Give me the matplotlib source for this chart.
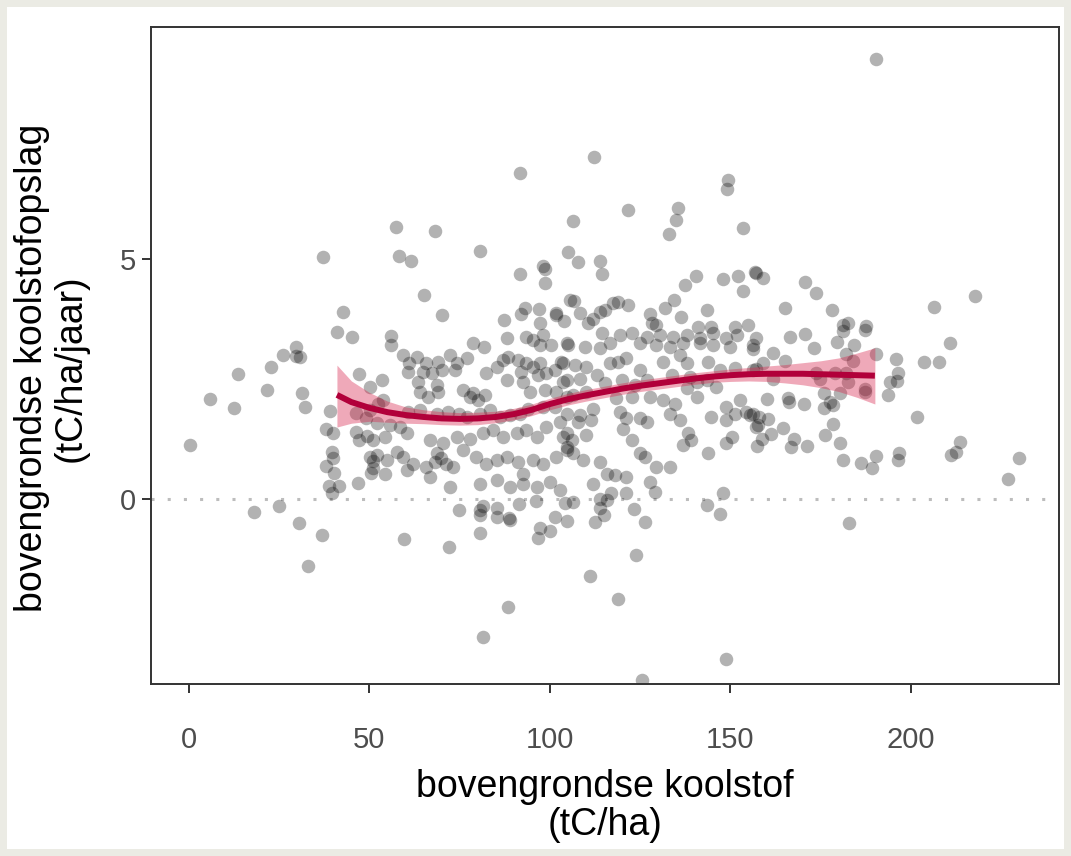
import numpy as np
import matplotlib.pyplot as plt
from matplotlib.patches import Rectangle

# ---------- dati ----------
# punti: (koolstof tC/ha, opslag tC/ha/jaar), raggruppati per zona del grafico
pts_left = [
    (0.3, 1.13), (5.8, 2.08), (12.6, 1.9), (13.7, 2.6), (18.1, -0.27), (21.5, 2.28),
    (22.6, 2.76), (25.0, -0.14), (26.1, 3.0), (29.8, 3.16), (29.8, 2.98), (30.9, 2.96),
    (30.4, -0.49), (31.2, 2.2), (32.1, 1.92), (33.0, -1.39), (37.0, -0.75), (37.2, 5.05),
    (38.1, 1.47), (38.1, 0.69), (38.9, 0.27), (39.1, 1.83), (39.5, 0.99), (39.5, 0.12),
    (39.8, 1.37), (39.8, 0.85), (40.2, 0.54), (40.9, 3.47), (41.6, 0.27), (42.6, 3.89),
    (45.2, 3.37), (46.4, 1.8), (46.4, 1.4), (46.7, 0.33), (47.2, 2.6), (47.2, 1.23),
    (49.0, 1.68), (49.2, 1.31), (50.1, 2.34), (50.1, 0.88), (50.9, 0.8), (50.3, 0.55),
]
pts_upper_mid = [
    (91.7, 6.78), (57.3, 5.67), (68.3, 5.58), (58.3, 5.07), (61.4, 4.96), (80.6, 5.17),
    (91.7, 4.68), (98.0, 4.85), (98.6, 4.8), (98.6, 4.51), (65.2, 4.24), (70.0, 3.83),
    (87.3, 3.73), (92.1, 3.85), (93.1, 3.97), (96.9, 3.95), (97.2, 3.66), (101.7, 3.88),
    (101.8, 3.83), (103.9, 3.71), (105.5, 4.15),
]
pts_upper_right = [
    (112.2, 7.12), (149.4, 6.65), (149.1, 6.45), (121.5, 6.02), (135.5, 6.07), (134.9, 5.81),
    (133.0, 5.53), (106.5, 5.79), (153.5, 5.65), (105.0, 5.15), (107.8, 4.94), (113.9, 4.96),
    (114.3, 4.68), (140.4, 4.65), (137.4, 4.46), (148.0, 4.58), (152.2, 4.65), (156.8, 4.72),
    (153.5, 4.33), (106.7, 4.13), (108.3, 3.88), (110.6, 3.67), (112.0, 3.76), (113.9, 3.9),
    (115.2, 3.94), (117.5, 4.08), (118.9, 4.11), (121.7, 4.04), (127.7, 3.86), (128.4, 3.67),
    (129.5, 3.63), (131.9, 3.97), (134.3, 4.15), (136.4, 3.79), (143.6, 3.94), (141.1, 3.59),
    (144.7, 3.59), (151.2, 3.59), (154.9, 3.63),
    (190.2, 9.17), (217.8, 4.23), (206.4, 3.99), (157.1, 4.71), (158.9, 4.6), (170.6, 4.53),
    (173.7, 4.29), (165.1, 3.97), (178.0, 3.94), (181.3, 3.63), (182.6, 3.66), (187.5, 3.6),
]
pts_right = [
    (210.8, 3.26), (203.7, 2.85), (207.8, 2.85), (195.8, 2.91), (196.5, 2.63), (196.0, 2.46),
    (194.2, 2.43), (193.7, 2.17), (190.2, 3.03), (201.8, 1.71), (213.6, 1.19), (211.0, 0.92),
    (212.6, 0.99), (229.8, 0.85), (227.0, 0.42), (196.8, 0.95), (196.5, 0.81), (190.2, 0.9),
    (186.2, 0.76), (189.3, 0.64), (181.1, 0.81), (182.8, -0.49), (180.3, 1.17), (176.3, 1.33),
    (178.3, 1.56), (171.3, 1.11), (166.7, 1.08), (167.6, 1.26), (164.6, 1.49), (161.1, 1.35),
    (158.6, 1.26), (157.4, 1.1), (155.4, 1.75), (158.0, 1.7), (160.5, 1.66), (157.7, 1.54),
    (160.2, 2.08), (166.0, 2.1), (166.3, 2.03), (170.4, 1.98), (175.9, 2.2), (180.3, 2.21),
    (177.6, 2.03), (178.5, 1.96), (175.9, 1.9), (187.3, 2.29), (187.3, 2.24), (173.8, 2.62),
    (174.8, 2.51), (178.9, 2.63), (182.1, 2.62), (182.6, 2.44), (161.9, 2.51), (159.1, 2.83),
    (157.2, 2.7), (165.1, 2.88), (161.7, 3.05), (156.3, 3.12), (157.2, 3.35), (173.1, 3.14),
    (179.4, 3.28), (182.1, 3.03), (184.0, 2.88), (184.2, 3.21), (166.5, 3.38), (170.6, 3.44),
    (181.2, 3.51), (187.3, 3.52),
]
pts_negative = [
    (74.9, -0.23), (81.5, -0.15), (80.7, -0.33), (85.2, -0.19), (85.2, -0.37), (88.7, -0.4),
    (88.9, -0.44), (91.5, -0.1), (96.1, -0.03), (80.6, -0.7), (59.6, -0.84), (72.1, -0.99),
    (101.5, -0.37), (104.6, -0.45), (100.0, -0.66), (97.2, -0.61), (96.8, -0.82), (88.5, -2.24),
    (81.5, -2.87), (104.2, -0.08), (80.6, -0.23),
    (112.5, -0.47), (114.9, -0.33), (113.9, -0.19), (115.7, -0.02), (123.3, -0.21), (126.3, -0.48),
    (123.8, -1.17), (111.1, -1.6), (118.9, -2.07), (148.9, -3.32), (125.5, -3.77), (143.4, -0.13),
    (147.1, -0.31), (106.5, -0.06),
]
pts_core_a = [
    (55.9, 3.4), (55.9, 3.21), (78.8, 3.26), (81.7, 3.17), (88.0, 3.35), (93.5, 3.38),
    (95.4, 3.31), (98.1, 3.42), (100.4, 3.21), (97.2, 3.21), (104.6, 3.24), (59.4, 3.0),
    (63.1, 2.96), (61.0, 2.83), (60.7, 2.65), (53.6, 2.49), (65.8, 2.84), (69.0, 2.86),
    (67.2, 2.62), (64.9, 2.65), (63.5, 2.44), (64.0, 2.24), (68.6, 2.38), (69.0, 2.24),
    (66.3, 2.13), (70.0, 2.69), (72.3, 3.0), (74.2, 2.83), (77.0, 2.93), (73.7, 2.69),
    (82.4, 2.62), (76.0, 2.27), (78.8, 2.2), (80.1, 2.06), (77.8, 2.13), (82.0, 2.17),
    (87.1, 2.9), (88.5, 2.96), (91.2, 2.9), (93.5, 2.83), (92.1, 2.65), (95.4, 2.76),
    (97.2, 2.83), (96.8, 2.58), (99.0, 2.62), (92.6, 2.44), (88.0, 2.48), (85.2, 2.76),
    (101.4, 2.69), (103.2, 2.86), (103.7, 2.44), (101.8, 2.24), (98.6, 2.27), (94.5, 2.24),
    (53.8, 2.06), (52.4, 1.99), (50.1, 1.85), (60.7, 1.82), (64.0, 1.85), (68.6, 1.78),
    (71.9, 1.82), (74.7, 1.78), (77.0, 1.71), (80.6, 1.78), (83.4, 1.85), (86.1, 1.71),
    (88.9, 1.75), (91.7, 1.78), (94.0, 1.88), (98.1, 1.92), (101.4, 1.92), (104.6, 2.13),
    (52.0, 1.58), (55.7, 1.54), (58.4, 1.51), (60.3, 1.37), (54.3, 1.3), (51.1, 1.23),
    (66.8, 1.23), (70.4, 1.16), (74.2, 1.3), (77.8, 1.26), (81.5, 1.37), (84.3, 1.44),
    (87.1, 1.3), (90.8, 1.37), (93.5, 1.44), (96.3, 1.3), (99.0, 1.51), (102.8, 1.61),
    (104.6, 1.37), (68.6, 0.95), (69.9, 0.85), (71.3, 0.74), (73.2, 0.67), (68.1, 0.78),
    (65.8, 0.67), (62.1, 0.74), (59.4, 0.88), (57.5, 0.99), (54.8, 0.81), (52.0, 0.92),
    (51.1, 0.64), (54.3, 0.53), (76.0, 1.02), (79.6, 0.88), (82.4, 0.74), (85.2, 0.81),
    (88.0, 0.88), (91.2, 0.78), (92.6, 0.53), (95.4, 0.81), (98.1, 0.74), (101.8, 0.88),
    (104.6, 1.09), (60.3, 0.6), (66.8, 0.46), (72.3, 0.26), (80.6, 0.32), (85.2, 0.4),
    (88.9, 0.26), (92.6, 0.32), (96.3, 0.26), (100.0, 0.36), (102.8, 0.19),
]
pts_core_b = [
    (114.3, 3.45), (119.4, 3.42), (122.6, 3.45), (126.8, 3.38), (130.5, 3.42), (134.2, 3.38),
    (137.9, 3.42), (141.6, 3.35), (145.2, 3.45), (148.9, 3.35), (151.7, 3.42), (156.3, 3.21),
    (105.1, 3.21), (109.7, 3.17), (113.9, 3.14), (116.6, 3.24), (124.9, 3.24), (129.5, 3.21),
    (133.2, 3.17), (136.9, 3.24), (141.6, 3.24), (145.2, 3.21), (149.9, 3.17),
    (103.7, 2.83), (106.9, 2.79), (110.1, 2.76), (116.6, 2.83), (118.9, 2.86), (121.2, 2.93),
    (124.9, 2.69), (131.4, 2.86), (136.0, 3.0), (137.9, 2.83), (143.9, 2.86), (147.1, 2.69),
    (151.2, 2.72), (156.3, 2.69),
    (104.6, 2.48), (108.3, 2.51), (112.9, 2.58), (115.2, 2.41), (119.9, 2.48), (123.5, 2.37),
    (126.8, 2.48), (133.7, 2.58), (138.8, 2.55), (140.6, 2.44), (143.4, 2.48), (146.1, 2.34),
    (106.5, 2.17), (110.1, 2.24), (118.4, 2.1), (122.6, 2.13), (127.7, 2.13), (131.4, 2.06),
    (134.6, 1.99), (137.9, 2.31), (140.6, 2.13), (148.9, 1.92), (152.6, 2.06), (156.3, 1.78),
    (157.2, 1.5),
    (104.6, 1.78), (108.3, 1.75), (112.0, 1.88), (107.8, 1.61), (111.5, 1.65), (119.4, 1.82),
    (121.2, 1.68), (124.9, 1.68), (126.8, 1.61), (120.3, 1.47), (133.2, 1.78), (136.0, 1.65),
    (144.7, 1.71), (148.9, 1.65), (151.2, 1.78), (154.4, 1.82),
    (103.7, 1.3), (106.0, 1.23), (110.1, 1.33), (104.6, 1.02), (106.5, 0.95), (109.1, 0.81),
    (122.6, 1.23), (124.9, 0.95), (126.3, 0.88), (129.5, 0.67), (133.2, 0.67), (136.9, 1.12),
    (139.2, 1.23), (138.2, 1.37), (143.9, 0.95), (148.9, 1.16), (150.3, 1.3),
    (113.9, 0.78), (115.7, 0.53), (118.0, 0.5), (121.2, 0.46), (112.0, 0.32), (127.7, 0.36),
    (129.1, 0.15), (121.2, 0.12), (117.0, 0.12), (113.9, 0.0), (148.0, 0.12),
]

smooth_x = [41, 45, 50, 55, 60, 65, 70, 75, 80, 85, 90, 95, 100, 105, 110, 115,
            120, 125, 130, 135, 140, 145, 150, 155, 160, 165, 170, 175, 180, 185, 190]
smooth_y = [2.17, 2.02, 1.90, 1.81, 1.75, 1.71, 1.68, 1.67, 1.68, 1.71, 1.77, 1.86,
            1.98, 2.08, 2.16, 2.23, 2.30, 2.36, 2.41, 2.46, 2.51, 2.55, 2.58, 2.60,
            2.61, 2.61, 2.61, 2.60, 2.59, 2.58, 2.57]
smooth_lo = [1.50, 1.58, 1.62, 1.60, 1.58, 1.57, 1.55, 1.54, 1.55, 1.59, 1.65, 1.74,
             1.86, 1.96, 2.04, 2.11, 2.18, 2.24, 2.29, 2.34, 2.39, 2.43, 2.45, 2.46,
             2.45, 2.42, 2.38, 2.32, 2.24, 2.12, 1.98]
smooth_hi = [2.79, 2.46, 2.22, 2.04, 1.92, 1.86, 1.82, 1.80, 1.81, 1.83, 1.89, 1.98,
             2.10, 2.20, 2.28, 2.35, 2.42, 2.48, 2.53, 2.58, 2.63, 2.67, 2.71, 2.74,
             2.77, 2.80, 2.84, 2.88, 2.94, 3.04, 3.15]

x_ticks = [0, 50, 100, 150, 200]
y_ticks = [0, 5]
x_label = "bovengrondse koolstof\n(tC/ha)"
y_label = "bovengrondse koolstofopslag\n(tC/ha/jaar)"


def main():
    pts = np.array(pts_left + pts_upper_mid + pts_upper_right + pts_right
                   + pts_negative + pts_core_a + pts_core_b)

    W, H = 1071, 856
    fig = plt.figure(figsize=(W / 100, H / 100), dpi=100)
    fig.patch.set_facecolor("#ebebe4")
    # witte kaart binnen de beige rand
    fig.add_artist(Rectangle((7 / W, 7 / H), 1 - 14 / W, 1 - 14 / H, transform=fig.transFigure,
                             facecolor="white", edgecolor="none", zorder=-1))

    ax = fig.add_axes([151 / W, 1 - 684 / H, (1059 - 151) / W, (684 - 27) / H])
    ax.set_facecolor("white")

    fam = ["Liberation Sans", "DejaVu Sans"]

    ax.axhline(0, color="#bdbdbd", lw=2.2, linestyle=(0, (1, 4.3)), zorder=1)

    ax.scatter(pts[:, 0], pts[:, 1], s=95, color="black", alpha=0.3, linewidths=0, zorder=2)

    ax.fill_between(smooth_x, smooth_lo, smooth_hi, color="#d92a50", alpha=0.4, lw=0, zorder=3)
    ax.plot(smooth_x, smooth_y, color="#b1003a", lw=4.3, solid_capstyle="butt", zorder=4)

    ax.set_xlim(-10.5, 241)
    ax.set_ylim(-3.85, 9.83)
    ax.set_xticks(x_ticks)
    ax.set_yticks(y_ticks)
    ax.tick_params(length=6.5, width=1.4, color="#333333", labelsize=21,
                   labelcolor="#4d4d4d")
    ax.tick_params(axis="x", pad=24)
    ax.tick_params(axis="y", pad=4)
    for lab in ax.get_xticklabels() + ax.get_yticklabels():
        lab.set_family(fam)
    for sp in ax.spines.values():
        sp.set_color("#333333")
        sp.set_linewidth(1.4)

    fig.text(605 / W, 1 - 806 / H, x_label, ha="center", va="center", fontsize=27,
             family=fam, linespacing=1.05, color="black")
    fig.text(51 / W, 1 - 368 / H, y_label, ha="center", va="center", rotation=90,
             fontsize=27, family=fam, linespacing=1.1, color="black")

    fig.savefig("out.png", dpi=100, facecolor=fig.get_facecolor())


if __name__ == "__main__":
    main()
